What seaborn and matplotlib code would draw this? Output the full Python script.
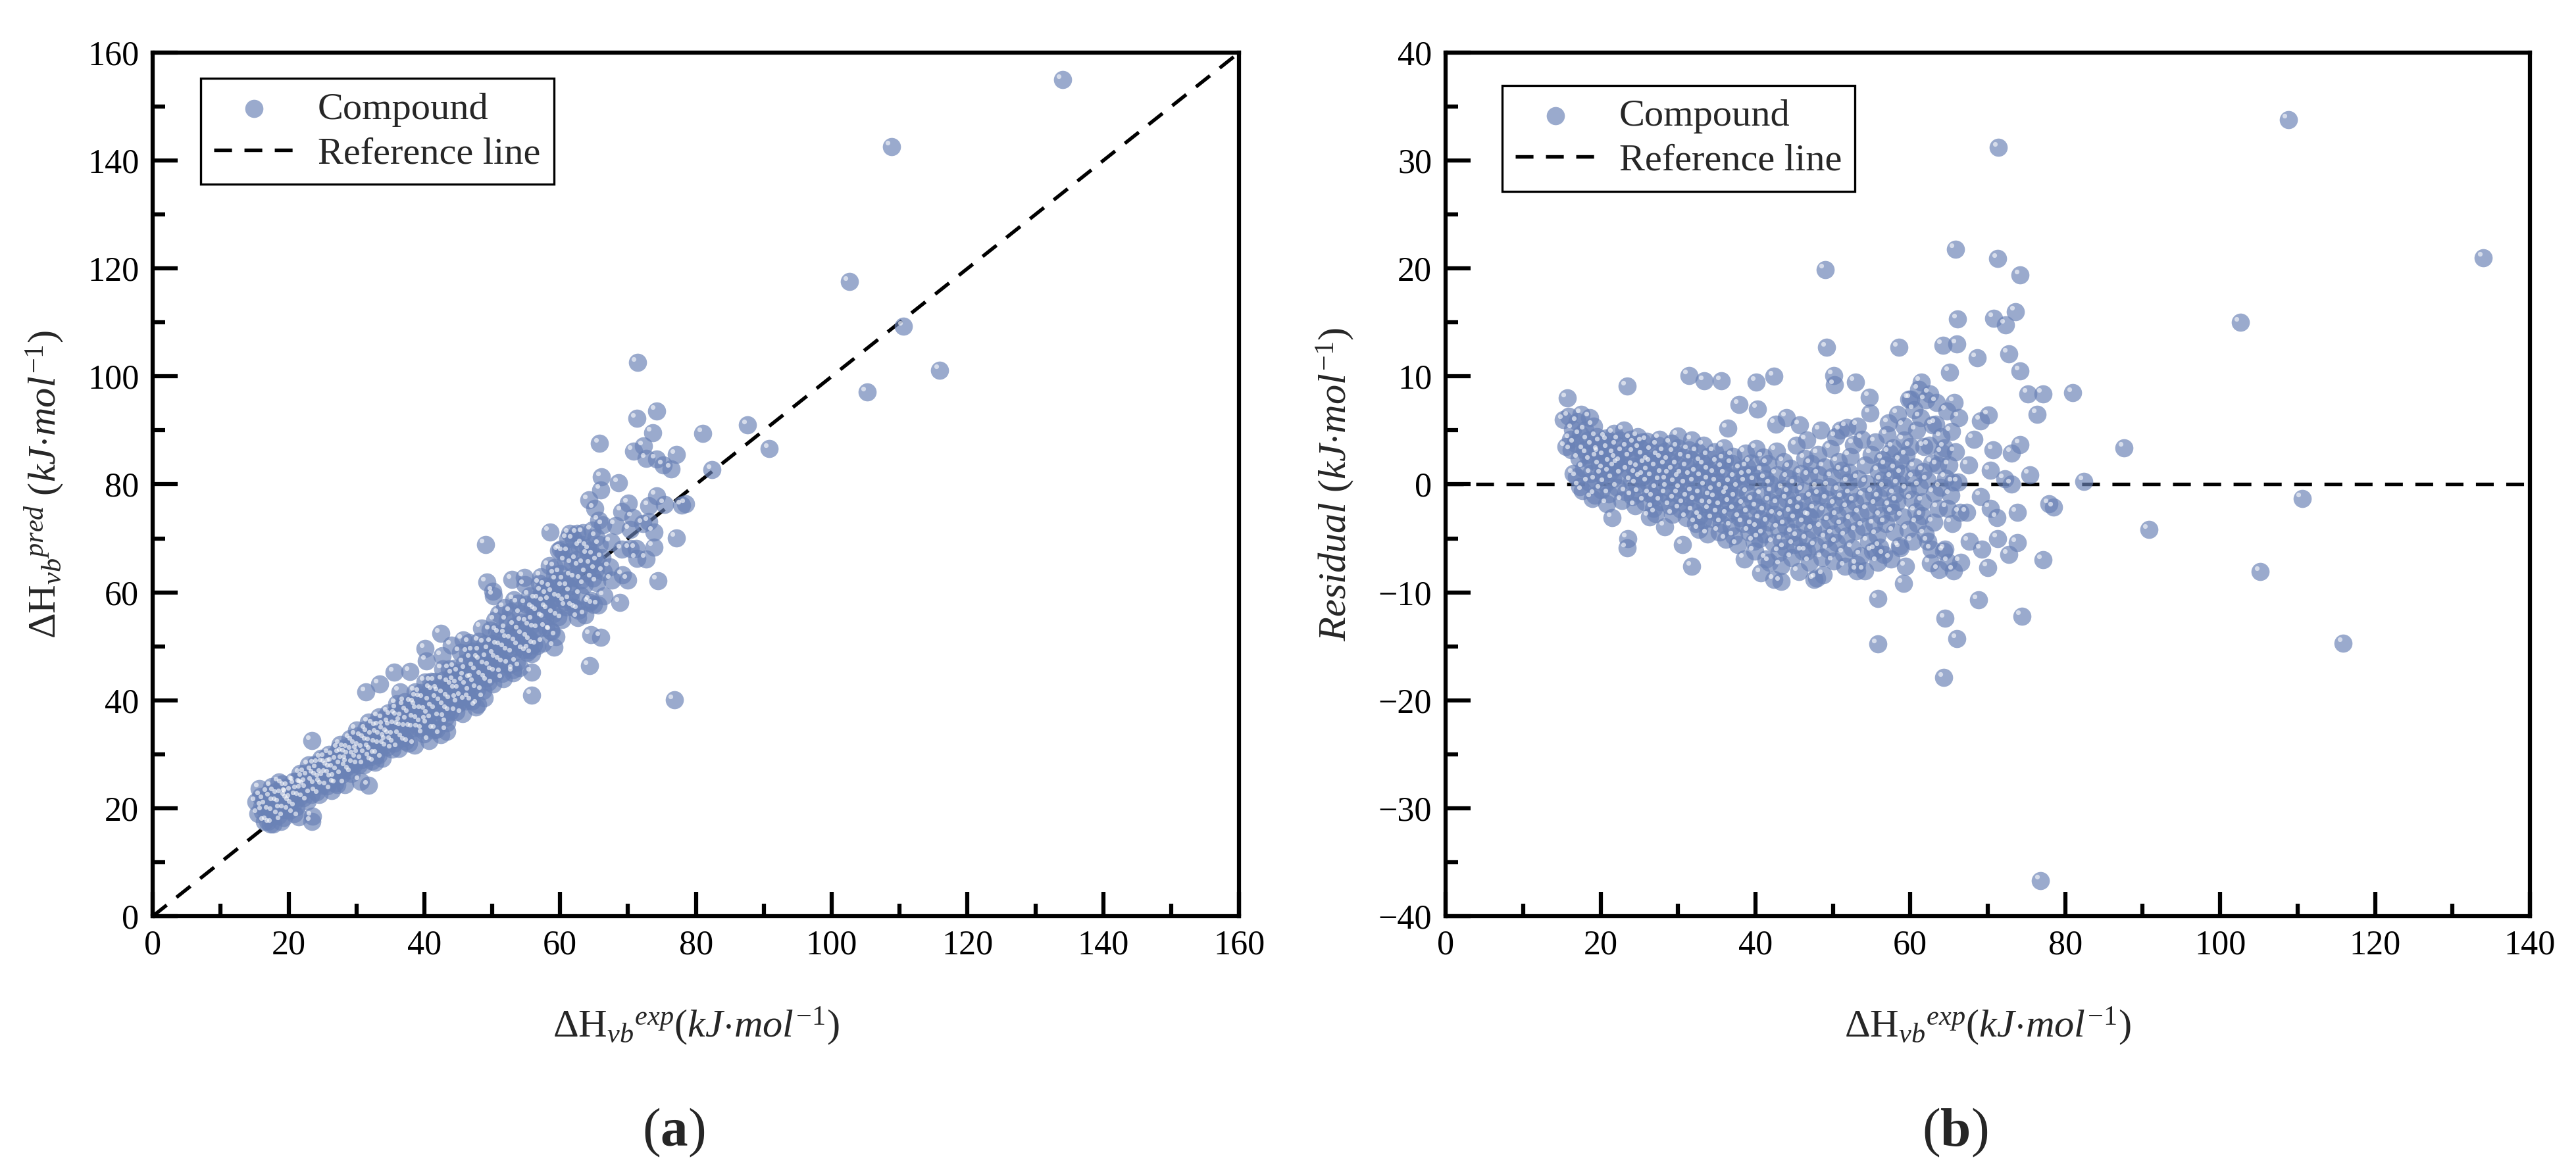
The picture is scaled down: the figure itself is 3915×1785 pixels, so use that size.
import matplotlib
matplotlib.use('Agg')
import numpy as np
import pandas as pd
import matplotlib.pyplot as plt
import seaborn as sns
from matplotlib.ticker import MultipleLocator
from matplotlib.transforms import offset_copy

exp_low = [
    15.2, 15.5, 15.7, 15.9, 16.1,
    16.2, 16.4, 16.5, 16.7, 16.9, 17.0,
    17.2, 17.4, 17.3, 17.5, 17.8, 17.9, 18.0, 17.7,
    18.3, 18.5, 18.4, 18.6, 18.8, 19.0, 18.9, 19.1, 18.7,
    19.4, 19.6, 19.5, 19.3, 19.7, 19.9, 20.1, 20.0, 19.8, 20.2,
    20.5, 20.7, 20.6, 20.4, 20.8, 21.0, 21.2, 21.1, 20.9, 21.3,
    21.6, 21.8, 21.7, 21.5, 21.9, 22.1, 22.3, 22.2, 22.0, 22.4,
    22.7, 22.9, 22.8, 22.6, 23.0, 23.4, 23.5, 23.4, 23.3, 23.6, 23.5,
    23.8, 24.0, 23.9, 24.1, 24.2, 24.4, 24.6, 24.5, 24.3, 24.7,
    24.9, 25.1, 25.0, 24.8, 25.2, 25.5, 25.7, 25.6, 25.4, 25.8,
    26.3, 26.1, 26.2, 26.0, 26.4, 26.2, 26.6, 26.8, 26.7, 26.5, 26.9,
    27.2, 27.4, 27.3, 27.1, 27.5, 27.7, 27.9, 27.8, 27.6, 28.0,
    28.3, 28.5, 28.4, 28.2, 28.6, 28.8, 29.0, 28.9, 28.7, 29.1,
    29.4, 29.6, 29.5, 29.3, 29.7,
]
res_low = [
    6.0, 3.5, 8.0, 6.3, 4.2,
    3.2, 5.1, 1.0, 3.8, 0.7, 5.8,
    2.4, 4.6, -0.2, 6.5, 1.5, 3.2, 5.0, -0.6,
    2.8, 0.2, 4.1, 6.2, 1.0, 3.6, -1.3, 5.4, 2.2,
    0.4, 2.5, 4.4, -1.0, 3.1, 1.8, -0.5, 3.9, 2.9, 0.9,
    2.6, 4.3, 0.1, 1.4, -1.8, 3.3, 1.1, -0.9, 4.0, 2.0,
    0.5, 2.8, 4.7, -3.1, 1.6, 3.6, 1.9, -0.3, 2.4, 4.1,
    0.9, 3.0, -1.5, 2.1, 5.0, 9.1, -5.0, -5.9, -0.7, 1.3, 3.4,
    2.5, 0.3, 4.2, -1.1, 1.7, 3.8, 1.0, -2.0, 2.9, 0.0,
    1.5, 3.3, -0.8, 4.4, 0.6, 2.7, -1.6, 0.8, 3.9, 1.9,
    -3.0, 0.2, 2.2, 4.0, -0.9, 1.2, 3.1, -2.2, 0.7, 2.0, -1.2,
    1.6, 3.6, -0.4, -2.7, 2.6, 0.3, 2.4, -1.6, 4.2, 1.0,
    -3.9, -0.9, 1.8, 3.0, 0.4, 2.2, -2.0, 0.9, -0.3, 3.8,
    1.3, -1.4, 2.9, -2.8, 0.1,
]

exp_mid = [
    30.0, 30.2, 30.1, 29.9, 30.3, 30.0,
    30.6, 30.8, 30.5, 30.7, 30.4,
    31.2, 31.1, 31.4, 31.0, 31.3, 31.4,
    31.8, 31.7, 31.9, 31.6, 32.0, 31.8,
    32.3, 32.4, 32.2, 32.5, 32.1,
    32.9, 33.0, 32.8, 33.1, 32.7,
    33.4, 33.5, 33.3, 33.6, 33.2, 33.4,
    34.0, 34.1, 33.9, 34.2, 33.8, 34.0,
    34.6, 34.7, 34.5, 34.8, 34.4,
    35.1, 35.2, 35.0, 35.3, 34.9, 35.6,
    35.7, 35.8, 35.6, 35.9, 35.5,
    36.2, 36.3, 36.1, 36.4, 36.0,
    36.8, 36.9, 36.7, 37.0, 36.6, 36.4,
    37.3, 37.4, 37.2, 37.5, 37.1,
    37.9, 38.0, 37.8, 38.1, 37.7,
    38.5, 38.6, 38.4, 38.7, 38.6,
    39.0, 39.1, 38.9, 39.2, 38.8,
    39.6, 39.7, 39.5, 39.8, 39.4,
    40.1, 40.2, 40.0, 40.3, 39.9, 40.1, 40.3,
    40.7, 40.8, 40.6, 40.9, 40.5,
    41.2, 41.3, 41.1, 41.4, 41.0,
    41.8, 41.9, 41.7, 42.0, 41.6,
    42.4, 42.6, 42.5, 42.3, 42.2, 42.4,
    42.9, 43.0, 42.8, 43.1, 42.7,
    43.5, 43.6, 43.4, 43.7, 43.3, 43.3,
    44.0, 44.1, 43.9, 44.2, 43.8,
    44.6, 44.7, 44.5, 44.8, 44.4,
]
res_mid = [
    3.4, 0.6, -0.9, 1.8, -2.3, 4.5,
    -5.6, -1.8, 0.9, 2.5, -0.4,
    1.6, -3.1, 3.2, 0.0, -1.2, 10.1,
    -7.6, 2.3, -0.7, 0.8, -2.5, 4.1,
    -3.6, 1.1, -1.5, 3.0, 0.2,
    -0.9, 2.1, -2.9, 0.7, -4.2,
    1.8, -1.8, 3.6, -0.2, -3.3, 9.6,
    0.4, -2.4, 2.6, -1.1, -4.6, 1.3,
    -0.6, 3.0, -3.2, 1.0, -1.9,
    2.0, -2.7, 0.2, -4.4, -1.3, 9.6,
    -0.3, 1.5, -3.6, 3.4, -2.0,
    -5.1, -1.0, 0.9, -2.8, 2.3,
    0.1, -3.9, -1.7, 1.9, -0.6, 5.2,
    -2.4, 0.6, -4.8, -1.2, 2.6,
    7.4, -3.1, -0.3, 1.4, -5.6,
    -1.9, 0.8, -3.6, 2.9, -6.9,
    -0.8, -2.7, 1.6, -4.4, 0.2,
    -3.8, -1.5, 0.9, -5.3, 2.0,
    9.5, -2.1, 0.3, -4.0, -6.2, 3.3, 7.0,
    -8.2, -1.0, -3.2, 1.2, -5.0,
    -2.5, 0.5, -4.6, -6.9, 2.5,
    -7.2, -1.6, -3.5, 0.0, 1.9,
    10.0, 5.6, -2.8, -5.4, -0.7, -8.8,
    -1.8, -4.1, 0.9, -6.3, 3.1,
    -3.0, -0.4, -5.2, 2.1, -9.0, -7.5,
    6.2, -1.4, -3.8, 0.6, -5.9,
    -2.6, -6.8, 1.5, -4.5, -0.8,
]

exp_high = [
    45.1, 45.2, 45.0, 45.3, 44.9,
    45.7, 45.6, 45.8, 45.5, 45.9,
    46.2, 46.3, 46.1, 46.4, 46.0, 46.6,
    46.8, 46.9, 46.7, 47.0, 46.6,
    47.3, 47.4, 47.2, 47.6, 47.1,
    47.9, 48.0, 47.8, 48.1, 47.7,
    48.4, 48.5, 48.3, 48.6, 48.2, 48.8,
    49.0, 49.2, 49.0, 49.1, 48.9,
    49.5, 49.6, 49.4, 49.7, 49.3,
    50.1, 50.2, 50.0, 50.3, 49.9, 50.1,
    50.6, 50.7, 50.5, 50.8, 50.4,
    51.2, 51.3, 51.1, 51.4, 51.0,
    51.8, 51.9, 51.7, 52.0, 51.6,
    52.3, 52.4, 52.2, 52.5, 52.1,
    52.9, 53.1, 52.8, 53.0, 52.7, 53.1,
    53.2, 53.5, 53.3, 53.6,
    54.1, 54.0, 53.9, 54.2, 53.8,
    54.7, 54.8, 54.5, 54.6, 54.4,
    55.1, 55.2, 55.0, 55.3, 55.8, 55.5,
    55.8, 55.8, 55.6, 55.9, 55.7, 55.5,
    56.2, 56.3, 56.1, 56.4, 56.0,
    56.8, 56.9, 56.7, 57.0, 56.6,
    57.5, 57.4, 57.3, 57.6, 57.2,
    57.9, 58.0, 57.8, 58.1, 57.7,
    58.5, 58.4, 58.6, 58.3, 58.7, 58.5, 58.7,
    59.1, 59.4, 59.0, 59.2, 58.9, 59.2,
    59.8, 59.6, 59.7, 59.5,
    60.1, 60.2, 60.0, 60.3, 60.4,
    60.7, 60.8, 60.6, 60.9, 60.5,
    61.4, 61.1, 61.3, 61.2, 61.5,
    61.8, 61.9, 61.7, 62.0, 61.6,
    62.5, 62.6, 62.3, 62.4, 62.2,
    62.9, 63.0, 62.8, 63.1, 62.7,
    63.4, 63.3, 63.7, 63.5, 63.6,
    64.2, 64.0, 63.9, 64.3, 64.1,
    64.6, 64.5, 64.7, 64.4, 64.8, 64.5, 64.3,
    65.1, 65.0, 65.2, 65.3, 64.9,
    65.7, 65.6, 65.5, 65.8, 65.4, 65.8,
    66.0, 66.3, 66.2, 66.4, 66.5, 66.1, 66.0,
]
res_high = [
    0.0, -3.2, -5.6, 3.6, -1.9,
    5.5, -8.1, -2.4, -4.9, 1.0,
    -0.6, -3.6, -6.2, 2.4, -1.6, -6.2,
    -2.9, 0.8, -5.1, -7.2, 4.1,
    -1.2, -4.2, 1.9, -8.8, -3.0,
    -8.7, -0.3, -5.7, 2.8, -2.3,
    5.0, -4.0, -1.0, -6.8, 0.9, -8.4,
    19.9, 12.7, -2.5, -5.0, 1.6,
    -0.2, -3.4, -6.0, 3.3, -1.4,
    10.1, 9.2, -4.6, -1.9, 0.7, -7.1,
    -2.9, 2.1, -5.4, -0.6, 4.4,
    -3.8, -1.3, 1.3, -6.4, 5.0,
    5.3, -2.2, -4.8, 0.2, -7.6,
    -0.9, -3.3, 2.6, -5.9, 1.1,
    9.5, -8.0, -1.6, -4.3, 3.7, -7.4,
    5.4, -2.7, 0.5, -6.6,
    -8.0, -1.1, -3.9, 1.8, 4.2,
    8.1, 6.6, -2.4, -5.3, 0.1,
    -6.2, -0.8, 2.8, -3.7, -10.6, -6.1,
    -14.8, -7.2, -1.9, 1.2, -4.7, 3.9,
    -2.9, 0.4, -5.8, 2.3, -1.2,
    -3.6, 1.8, -0.3, 4.6, -6.5,
    -6.9, -2.0, 2.9, 0.6, 5.7,
    -4.4, -0.9, 3.4, 1.4, -2.6,
    12.7, 6.5, -5.7, -1.6, 2.2, 0.0, -5.9,
    -9.2, -7.6, -3.0, 4.1, 1.0, 5.4,
    7.9, -0.5, -4.2, 2.7,
    7.9, -1.4, 3.5, -5.3, 0.6,
    -2.5, 5.0, 1.6, -3.6, 6.9,
    9.5, 8.8, 6.2, -0.2, -2.9,
    3.5, -4.6, 1.2, 7.8, -1.6,
    8.4, -7.3, -5.3, 3.6, 0.4,
    5.5, -3.5, 2.0, -0.8, -6.0,
    7.6, 5.6, -7.9, 1.8, -2.2,
    12.9, 4.4, -0.3, -6.2, 2.9,
    0.6, -6.0, 6.8, 3.4, -2.2, -12.4, -17.9,
    10.4, 1.8, -1.0, 4.9, -7.2,
    7.6, -8.0, 0.2, 3.0, -3.6, 21.8,
    13.0, 6.2, 0.2, -2.6, -7.2, 15.3, -14.3,
]

exp_out = [67.3, 67.6, 67.5, 68.2, 68.6, 68.8, 69.1, 69.1, 69.2, 70.1,
           70.0, 70.3, 70.3, 70.7, 70.8, 71.2, 71.3, 71.3, 71.4, 72.2,
           72.3, 72.7, 72.7, 73.1, 73.1, 73.6, 73.8, 73.8, 74.2, 74.2,
           74.2, 74.4, 75.2, 75.4, 76.4, 76.8, 77.1, 77.1, 77.9, 78.5,
           81.0, 82.4, 87.6, 90.8, 102.6, 105.2, 108.8, 110.6, 115.9, 134.0]
res_out = [-2.6, -5.3, 1.8, 4.2, 11.7, -10.7, 5.9, -1.1, -6.0, 6.4,
           -7.7, 1.3, -2.2, 3.2, 15.4, -3.1, -5.0, 20.9, 31.2, 0.5,
           14.8, 12.1, -6.5, 2.9, 0.0, 16.0, -2.6, -5.4, 19.4, 10.5,
           3.7, -12.2, 8.4, 0.9, 6.5, -36.7, 8.4, -7.0, -1.8, -2.1,
           8.5, 0.3, 3.4, -4.2, 15.0, -8.1, 33.8, -1.3, -14.7, 21.0]

df = pd.DataFrame({
    'exp': exp_low + exp_mid + exp_high + exp_out,
    'resid': res_low + res_mid + res_high + res_out,
})
df['pred'] = df['exp'] + df['resid']

# style
sns.set_style('ticks')
plt.rcParams['font.family'] = ['Liberation Serif', 'DejaVu Serif']
plt.rcParams['mathtext.fontset'] = 'custom'
plt.rcParams['mathtext.rm'] = 'Liberation Serif'
plt.rcParams['mathtext.it'] = 'Liberation Serif:italic'
plt.rcParams['mathtext.bf'] = 'Liberation Serif:bold'

dot_color = '#6a82b6'
ref_style = dict(color='black', lw=1.3, ls=(0, (5, 3.5)))

fig = plt.figure(figsize=(13.05, 5.95), dpi=300)
ax1 = fig.add_axes([0.0593, 0.2196, 0.4217, 0.7356])
ax2 = fig.add_axes([0.5612, 0.2196, 0.4209, 0.7356])


def draw_points(ax, ycol):
    sns.scatterplot(data=df, x='exp', y=ycol, ax=ax, s=44, color=dot_color,
                    alpha=0.68, linewidth=0, label='Compound', zorder=3)
    # small glint to mimic the shaded balls
    ax.scatter(df['exp'], df[ycol], s=3, color='white', alpha=0.6, linewidth=0,
               zorder=4, label='_nolegend_',
               transform=offset_copy(ax.transData, fig=fig, x=-1.3, y=1.3, units='points'))


def style_axes(ax):
    for sp in ax.spines.values():
        sp.set_linewidth(1.5)
        sp.set_color('black')
    ax.tick_params(which='both', direction='in', top=False, right=False,
                   width=1.5, labelsize=12.5, pad=5, colors='black')
    ax.tick_params(which='major', length=9)
    ax.tick_params(which='minor', length=4.5)


def add_legend(ax, anchor):
    leg = ax.legend(loc='upper left', bbox_to_anchor=anchor, borderaxespad=0,
                    fontsize=14, frameon=True, fancybox=False, edgecolor='black',
                    framealpha=1, handlelength=2.1, handletextpad=0.6,
                    labelspacing=0.25, borderpad=0.35)
    leg.get_frame().set_linewidth(0.8)


xlab = r'$\Delta\mathrm{H}_{vb}{}^{exp}(kJ{\cdot}mol^{\mathrm{-1}})$'

# (a) predicted vs experimental
draw_points(ax1, 'pred')
ax1.axline((0, 0), slope=1, label='Reference line', zorder=2, **ref_style)
ax1.set_xlim(0, 160)
ax1.set_ylim(0, 160)
ax1.xaxis.set_major_locator(MultipleLocator(20))
ax1.xaxis.set_minor_locator(MultipleLocator(10))
ax1.yaxis.set_major_locator(MultipleLocator(20))
ax1.yaxis.set_minor_locator(MultipleLocator(10))
style_axes(ax1)
ax1.set_xlabel(xlab, fontsize=14.5, labelpad=16)
ax1.set_ylabel(r'$\Delta\mathrm{H}_{vb}{}^{pred}\ (kJ{\cdot}mol^{\mathrm{-1}})$', fontsize=14.5, labelpad=8)
add_legend(ax1, (0.044, 0.97))

# (b) residuals
draw_points(ax2, 'resid')
ax2.axhline(0, label='Reference line', zorder=2, **ref_style)
ax2.set_xlim(0, 140)
ax2.set_ylim(-40, 40)
ax2.xaxis.set_major_locator(MultipleLocator(20))
ax2.xaxis.set_minor_locator(MultipleLocator(10))
ax2.yaxis.set_major_locator(MultipleLocator(10))
ax2.yaxis.set_minor_locator(MultipleLocator(5))
style_axes(ax2)
ax2.set_xlabel(xlab, fontsize=14.5, labelpad=16)
ax2.set_ylabel(r'$Residual\ (kJ{\cdot}mol^{\mathrm{-1}})$', fontsize=14.5, labelpad=8)
add_legend(ax2, (0.052, 0.962))

# panel tags
fig.text(0.2616, 0.035, r'($\mathbf{a}$)', ha='center', va='center', fontsize=20)
fig.text(0.7589, 0.035, r'($\mathbf{b}$)', ha='center', va='center', fontsize=20)

fig.savefig('out.png', dpi=300)
